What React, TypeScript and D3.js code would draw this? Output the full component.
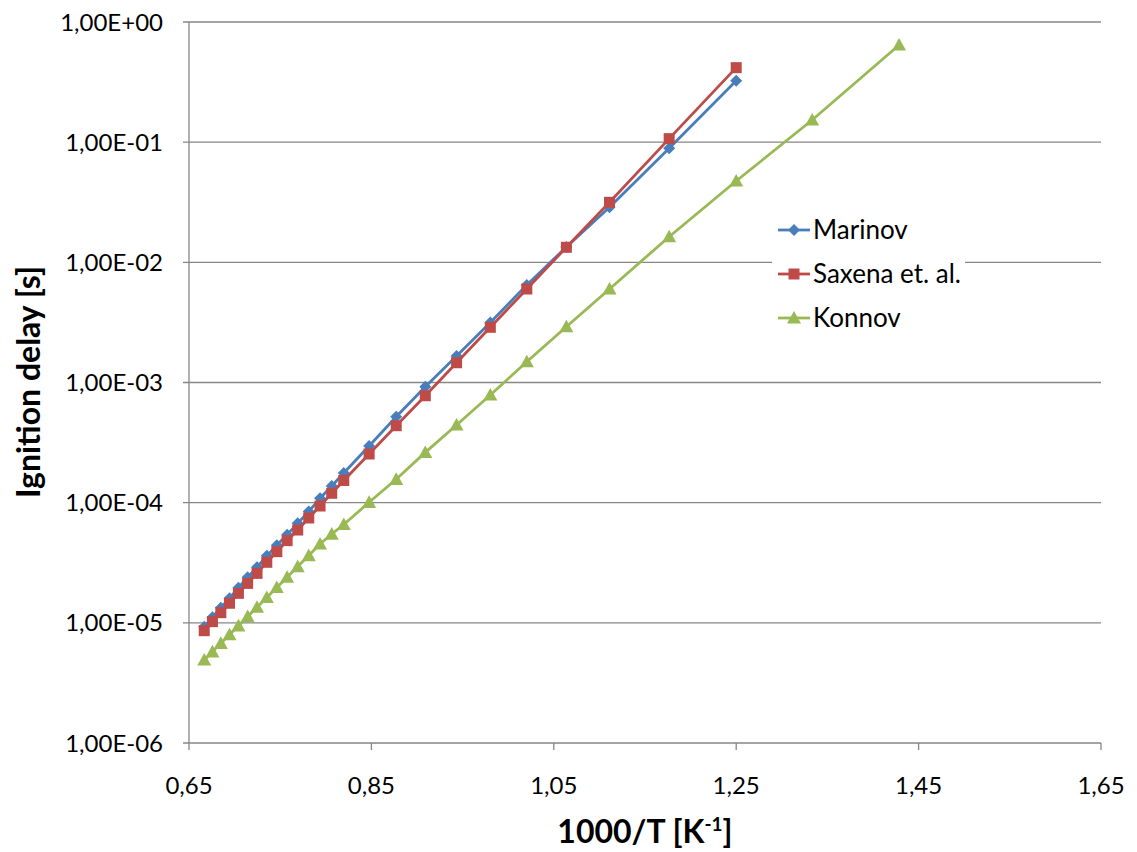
import React from "react";
import * as d3 from "d3";

// 1000/T values [1/K]
const xAll = [
  0.6667, 0.6757, 0.6849, 0.6944, 0.7042, 0.7143, 0.7246, 0.7353, 0.7463, 0.7576,
  0.7692, 0.7813, 0.7937, 0.8065, 0.8197, 0.8475, 0.8772, 0.9091, 0.9434, 0.9804,
  1.0204, 1.0638, 1.1111, 1.1765, 1.25, 1.3333, 1.4286,
];

const marinov = [
  9.29e-6, 1.114e-5, 1.336e-5, 1.6e-5, 1.958e-5, 2.39e-5, 2.9e-5, 3.61e-5, 4.43e-5, 5.42e-5,
  6.73e-5, 8.45e-5, 1.087e-4, 1.377e-4, 1.766e-4, 2.96e-4, 5.19e-4, 9.23e-4, 1.663e-3, 3.15e-3,
  6.48e-3, 1.342e-2, 2.87e-2, 8.89e-2, 0.3247,
];

const saxena = [
  8.6e-6, 1.023e-5, 1.215e-5, 1.455e-5, 1.76e-5, 2.13e-5, 2.58e-5, 3.19e-5, 3.91e-5, 4.83e-5,
  5.92e-5, 7.46e-5, 9.38e-5, 1.197e-4, 1.53e-4, 2.54e-4, 4.37e-4, 7.76e-4, 1.46e-3, 2.88e-3,
  6.0e-3, 1.334e-2, 3.16e-2, 0.107, 0.417,
];

const konnov = [
  4.91e-6, 5.74e-6, 6.75e-6, 7.97e-6, 9.45e-6, 1.127e-5, 1.349e-5, 1.628e-5, 1.972e-5, 2.4e-5,
  2.94e-5, 3.63e-5, 4.53e-5, 5.48e-5, 6.58e-5, 1.007e-4, 1.565e-4, 2.62e-4, 4.43e-4, 7.87e-4,
  1.49e-3, 2.91e-3, 6.0e-3, 1.633e-2, 4.75e-2, 0.153, 0.644,
];

const xTicks = [0.65, 0.85, 1.05, 1.25, 1.45, 1.65];
const yTicks = [1, 1e-1, 1e-2, 1e-3, 1e-4, 1e-5, 1e-6];

const seriesNames = ["Marinov", "Saxena et. al.", "Konnov"];
const seriesColors = ["#4A7EBB", "#BE4B48", "#98B954"];
const seriesShapes = ["diamond", "square", "triangle"];

const FONT = "Lato, 'Open Sans', sans-serif";

const fmtY = (v: number) => {
  const e = Math.round(Math.log10(v));
  const sign = e < 0 ? "-" : "+";
  return "1,00E" + sign + String(Math.abs(e)).padStart(2, "0");
};
const fmtX = (v: number) => d3.format(".2f")(v).replace(".", ",");

function Marker({ shape, x, y, color }: { shape: string; x: number; y: number; color: string }) {
  if (shape === "square") {
    return <rect x={x - 5.5} y={y - 5.5} width={11} height={11} fill={color} />;
  }
  if (shape === "diamond") {
    const r = 6;
    return <path d={`M${x},${y - r}L${x + r},${y}L${x},${y + r}L${x - r},${y}Z`} fill={color} />;
  }
  const r = 7;
  return (
    <path d={`M${x},${y - r}L${x + r},${y + r * 0.8}L${x - r},${y + r * 0.8}Z`} fill={color} />
  );
}

export default function App() {
  const W = 1137;
  const H = 852;
  const left = 189;
  const right = 1101;
  const top = 22;
  const bottom = 743;

  const x = d3.scaleLinear().domain([0.65, 1.65]).range([left, right]);
  const y = d3.scaleLog().domain([1e-6, 1]).range([bottom, top]);

  const allSeries = [marinov, saxena, konnov];
  const line = d3
    .line<[number, number]>()
    .x((d) => x(d[0]))
    .y((d) => y(d[1]));

  const gridColor = "#868686";

  const legendY = [230, 274, 318];

  return (
    <svg
      width={W}
      height={H}
      style={{ position: "absolute", left: 0, top: 0, background: "#fff" }}
      fontFamily={FONT}
    >
      <rect x={0} y={0} width={W} height={H} fill="#fff" />
      {/* gridlines */}
      {yTicks.map((t) => (
        <line
          key={"g" + t}
          x1={left - 6}
          x2={right}
          y1={y(t)}
          y2={y(t)}
          stroke={gridColor}
          strokeWidth={1.3}
        />
      ))}
      {/* y axis */}
      <line x1={left} x2={left} y1={top} y2={bottom} stroke={gridColor} strokeWidth={1.3} />
      {/* x axis ticks */}
      {xTicks.map((t) => (
        <line
          key={"xt" + t}
          x1={x(t)}
          x2={x(t)}
          y1={bottom}
          y2={bottom + 7}
          stroke={gridColor}
          strokeWidth={1.3}
        />
      ))}
      {/* y labels */}
      {yTicks.map((t) => (
        <text
          key={"yl" + t}
          x={163}
          y={y(t) + 8.5}
          textAnchor="end"
          fontSize={24}
          fill="#000"
        >
          {fmtY(t)}
        </text>
      ))}
      {/* x labels */}
      {xTicks.map((t) => (
        <text key={"xl" + t} x={x(t)} y={794} textAnchor="middle" fontSize={24} fill="#000">
          {fmtX(t)}
        </text>
      ))}
      {/* axis titles */}
      <text
        x={(left + right) / 2}
        y={843}
        textAnchor="middle"
        fontSize={32}
        fontWeight="bold"
        fill="#000"
      >
        1000/T [K
        <tspan dy={-12} fontSize={19}>
          -1
        </tspan>
        <tspan dy={12}>]</tspan>
      </text>
      <text
        transform={`translate(40,382) rotate(-90)`}
        textAnchor="middle"
        fontSize={32}
        fontWeight="bold"
        fill="#000"
      >
        Ignition delay [s]
      </text>

      {/* series */}
      {allSeries.map((vals, i) => {
        const pts: [number, number][] = vals.map((v, j) => [xAll[j], v]);
        return (
          <g key={"s" + i}>
            <path
              d={line(pts) || ""}
              fill="none"
              stroke={seriesColors[i]}
              strokeWidth={2.8}
              strokeLinejoin="round"
            />
            {pts.map((p, j) => (
              <Marker
                key={j}
                shape={seriesShapes[i]}
                x={x(p[0])}
                y={y(p[1])}
                color={seriesColors[i]}
              />
            ))}
          </g>
        );
      })}

      {/* legend */}
      <rect x={772} y={210} width={193} height={128} fill="#fff" />
      {seriesNames.map((name, i) => (
        <g key={"lg" + i}>
          <line
            x1={778}
            x2={810}
            y1={legendY[i]}
            y2={legendY[i]}
            stroke={seriesColors[i]}
            strokeWidth={2.8}
          />
          <Marker shape={seriesShapes[i]} x={794} y={legendY[i]} color={seriesColors[i]} />
          <text x={813} y={legendY[i] + 9} fontSize={26} fill="#000">
            {name}
          </text>
        </g>
      ))}
    </svg>
  );
}
